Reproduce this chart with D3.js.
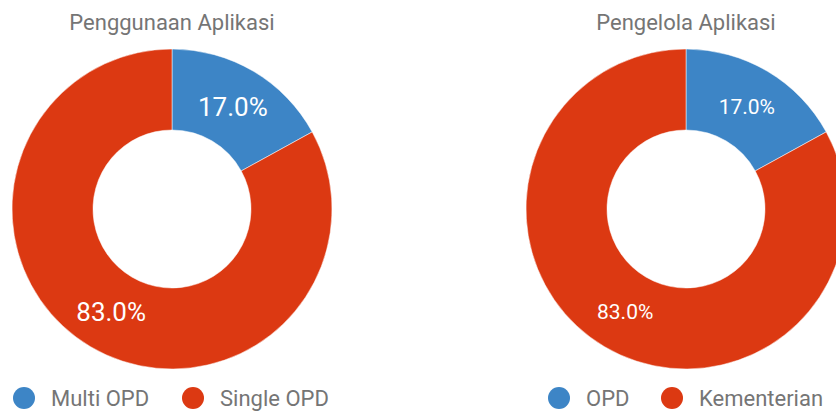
<!DOCTYPE html>
<html>
<head>
<meta charset="utf-8">
<script src="https://cdn.jsdelivr.net/npm/d3@7"></script>
<style>
  body { margin: 0; background: #fff; }
  svg { display: block; font-family: Roboto, "Noto Sans", sans-serif; }
</style>
</head>
<body>
<div id="container"></div>
<script>
// chart data
const titles = ["Penggunaan Aplikasi", "Pengelola Aplikasi"];
const categoriesLeft = ["Multi OPD", "Single OPD"];
const valuesLeft = [17.0, 83.0];
const categoriesRight = ["OPD", "Kementerian"];
const valuesRight = [17.0, 83.0];
const colors = ["#3d85c6", "#dc3912"];

const w = 836, h = 412;
const svg = d3.select("#container").append("svg").attr("width", w).attr("height", h);

const outerR = 160, innerR = 79;
const pie = d3.pie().sort(null).value(d => d.value);
const arc = d3.arc().innerRadius(innerR).outerRadius(outerR);

// each donut: center x, label font size, legend layout
const charts = [
  {title: titles[0], cats: categoriesLeft, vals: valuesLeft, cx: 172, labelSize: 26, legendX: [24, 193]},
  {title: titles[1], cats: categoriesRight, vals: valuesRight, cx: 686, labelSize: 21, legendX: [559, 672]}
];
const cy = 209;

charts.forEach(c => {
  const data = c.cats.map((name, i) => ({name: name, value: c.vals[i]}));
  const total = d3.sum(c.vals);

  svg.append("text")
    .attr("x", c.cx).attr("y", 30)
    .attr("text-anchor", "middle")
    .attr("fill", "#757575")
    .attr("font-size", 22)
    .text(c.title);

  const g = svg.append("g").attr("transform", `translate(${c.cx}, ${cy})`);
  const arcs = pie(data);

  g.selectAll("path")
    .data(arcs)
    .enter()
    .append("path")
      .attr("d", arc)
      .attr("fill", (d, i) => colors[i])
      .attr("stroke", "#fff")
      .attr("stroke-width", 0.5);

  g.selectAll("text.label")
    .data(arcs)
    .enter()
    .append("text")
      .attr("class", "label")
      .attr("transform", d => `translate(${arc.centroid(d)})`)
      .attr("text-anchor", "middle")
      .attr("dy", "0.36em")
      .attr("fill", "#fff")
      .attr("font-size", c.labelSize)
      .text(d => (d.data.value / total * 100).toFixed(1) + "%");

  // legend
  const leg = svg.selectAll(null)
    .data(data)
    .enter()
    .append("g")
      .attr("transform", (d, i) => `translate(${c.legendX[i]}, 398)`);
  leg.append("circle")
    .attr("r", 11)
    .attr("fill", (d, i) => colors[i]);
  leg.append("text")
    .attr("x", 27)
    .attr("dy", "0.36em")
    .attr("fill", "#757575")
    .attr("font-size", 22)
    .text(d => d.name);
});
</script>
</body>
</html>
